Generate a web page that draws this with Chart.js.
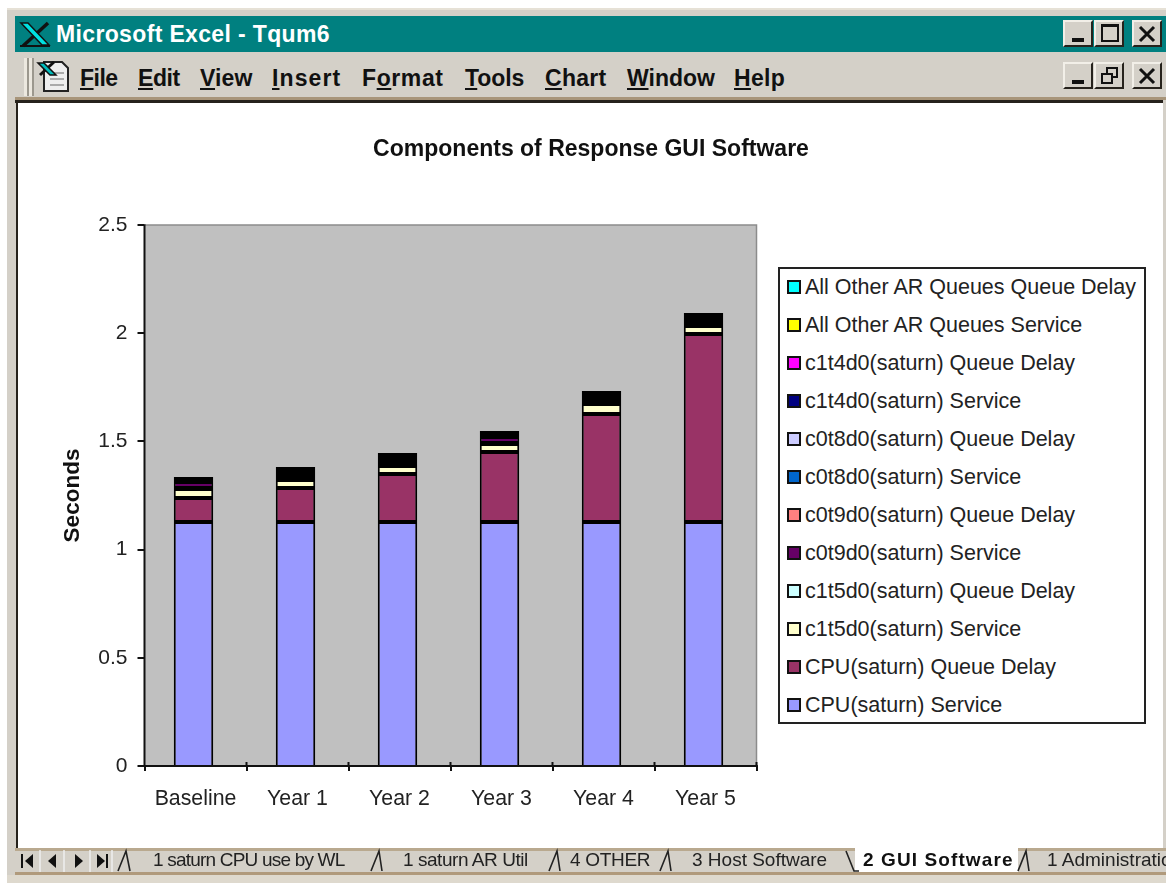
<!DOCTYPE html>
<html>
<head>
<meta charset="utf-8">
<title>Components of Response GUI Software</title>
<script src="https://cdn.jsdelivr.net/npm/chart.js@4/dist/chart.umd.min.js"></script>
<style>
html, body { margin: 0; padding: 0; background: #fff; }
#page { position: relative; width: 1166px; height: 883px; overflow: hidden; filter: blur(0.45px); font-family: "Liberation Sans", Arial, sans-serif; }
#page div, #page svg { position: absolute; }
.frame { left: 7px; top: 8px; width: 1159px; height: 875px; background: #d4d0c8; border-top: 2px solid #e6e1d6; box-sizing: border-box; }
.caption { left: 15px; top: 16px; width: 1151px; height: 36px; background: #008080; }
.captiontext { left: 56px; top: 21px; color: #fff; font: bold 23px "Liberation Sans", Arial, sans-serif; letter-spacing: 0.35px; white-space: nowrap; }
.menu { top: 65px; font: bold 23px "Liberation Sans", Arial, sans-serif; color: #111; white-space: nowrap; letter-spacing: 0.3px; }
.menu u { text-underline-offset: 2px; }
.sep1 { left: 15px; top: 97px; width: 1151px; height: 3px; background: #a8957a; }
.sep2 { left: 15px; top: 100px; width: 1148px; height: 3px; background: #26221c; }
.sepl { left: 16px; top: 100px; width: 2px; height: 755px; background: #26221c; }
.sheet { left: 18px; top: 103px; width: 1145px; height: 745px; background: #fff; }
.btn { width: 30px; height: 27px; background: #d4d0c8; box-sizing: border-box; border-top: 2px solid #f2efe8; border-left: 2px solid #f2efe8; border-right: 2px solid #26221c; border-bottom: 2px solid #26221c; }
.grip { top: 58px; width: 3px; height: 38px; background: #ece8df; border-right: 2px solid #9c988e; }
.tabbar { left: 15px; top: 848px; width: 1151px; height: 27px; background: #d4d0c8; border-top: 3px solid #b9a98f; border-bottom: 3px solid #b09a7c; box-sizing: border-box; }
.strip { left: 7px; top: 875px; width: 1159px; height: 8px; background: #ded9ce; }
.activetab { left: 855px; top: 846px; width: 163px; height: 26px; background: #fff; }
.tab { top: 849px; font: 19px "Liberation Sans", Arial, sans-serif; color: #222; white-space: nowrap; }
#wrap { left: 20px; top: 104px; width: 1142px; height: 744px; }
#legend { left: 778px; top: 267px; width: 368px; height: 457px; border: 2px solid #222; box-sizing: border-box; background: #fff; }
.item { left: 7px; height: 24px; width: 355px; }
.swatch { left: 0; top: 5px; width: 14px; height: 14px; border: 2px solid #111; box-sizing: border-box; }
.label { left: 18px; top: 0; font: 21.5px/24px "Liberation Sans", Arial, sans-serif; color: #222; white-space: nowrap; }
</style>
</head>
<body>
<div id="page">
  <div class="frame"></div>
  <div class="caption"></div>
  <svg style="left:18px;top:21px" width="34" height="27" viewBox="0 0 34 27">
    <path d="M30 2 L5 25" stroke="#111" stroke-width="3.5"/>
    <path d="M2 25 L32 25" stroke="#111" stroke-width="2"/>
    <path d="M3 2 L10 2 L31 24 L24 24 Z" fill="#00e0e0" stroke="#111" stroke-width="1.5"/>
  </svg>
  <div class="captiontext">Microsoft Excel - Tqum6</div>
  <div class="btn" style="left:1063px;top:20px"><div style="left:7px;top:16px;width:12px;height:4px;background:#111"></div></div>
  <div class="btn" style="left:1094px;top:20px"><div style="left:5px;top:2px;width:18px;height:18px;border:2px solid #111;border-top-width:3px;box-sizing:border-box"></div></div>
  <div class="btn" style="left:1132px;top:20px"><svg style="left:4px;top:3px" width="18" height="18"><path d="M2 2L16 16M16 2L2 16" stroke="#111" stroke-width="3"/></svg></div>
  <div class="grip" style="left:24px"></div>
  <div class="grip" style="left:29px"></div>
  <svg style="left:36px;top:59px" width="36" height="36" viewBox="0 0 36 36">
    <path d="M8 3 L26 3 L32 9 L32 32 L8 32 Z" fill="#eee" stroke="#222" stroke-width="2"/>
    <path d="M14 14H28M14 20H28M14 26H28" stroke="#aaa" stroke-width="2"/>
    <path d="M18 3 L4 16" stroke="#111" stroke-width="3"/>
    <path d="M2 4 L8 4 L20 16 L14 16 Z" fill="#00bcbc" stroke="#111" stroke-width="1.5"/>
  </svg>
  <div class="menu" style="left:80px;letter-spacing:-0.5px"><u>F</u>ile</div>
  <div class="menu" style="left:138px;letter-spacing:-0.4px"><u>E</u>dit</div>
  <div class="menu" style="left:200px;letter-spacing:0.1px"><u>V</u>iew</div>
  <div class="menu" style="left:272px;letter-spacing:1.1px"><u>I</u>nsert</div>
  <div class="menu" style="left:362px;letter-spacing:0.6px">F<u>o</u>rmat</div>
  <div class="menu" style="left:465px;letter-spacing:-0.1px"><u>T</u>ools</div>
  <div class="menu" style="left:545px"><u>C</u>hart</div>
  <div class="menu" style="left:627px;letter-spacing:0"><u>W</u>indow</div>
  <div class="menu" style="left:734px"><u>H</u>elp</div>
  <div class="btn" style="left:1063px;top:62px"><div style="left:7px;top:16px;width:12px;height:4px;background:#111"></div></div>
  <div class="btn" style="left:1094px;top:62px"><svg style="left:4px;top:2px" width="20" height="20" fill="none" stroke="#111" stroke-width="2"><rect x="7" y="2" width="10" height="9"/><rect x="2" y="8" width="10" height="9" fill="#d4d0c8"/></svg></div>
  <div class="btn" style="left:1132px;top:62px"><svg style="left:4px;top:3px" width="18" height="18"><path d="M2 2L16 16M16 2L2 16" stroke="#111" stroke-width="3"/></svg></div>
  <div class="sep1"></div>
  <div class="sep2"></div>
  <div class="sepl"></div>
  <div class="sheet"></div>
  <div id="wrap"><canvas id="componentsChart"></canvas></div>
  <div id="legend"></div>
  <div class="tabbar"></div>
  <div class="strip"></div>
  <div class="activetab"></div>
  <svg style="left:18px;top:849px" width="120" height="24" viewBox="0 0 120 24">
    <g fill="#111">
      <rect x="3" y="5" width="2" height="14"/><path d="M15 5V19L7 12Z"/>
      <path d="M38 5V19L30 12Z"/>
      <path d="M57 5V19L65 12Z"/>
      <path d="M79 5V19L87 12Z"/><rect x="88" y="5" width="2" height="14"/>
    </g>
    <path d="M22 1V23M46 1V23M72 1V23M94 1V23" stroke="#eee" stroke-width="1.5"/>
  </svg>
  <svg style="left:0;top:845px" width="1166" height="30" viewBox="0 0 1166 30" fill="none" stroke="#222" stroke-width="1.6">
    <path d="M118 26L126 6L130 26"/>
    <path d="M371 26L379 6L382 26"/>
    <path d="M549 26L557 6L560 26"/>
    <path d="M660 26L668 6L671 26"/>
    <path d="M846 6L854 26L859 26"/>
    <path d="M1018 26L1026 6L1029 26"/>
  </svg>
  <div class="tab" style="left:153px;letter-spacing:-0.8px">1 saturn CPU use by WL</div>
  <div class="tab" style="left:403px;letter-spacing:-0.45px">1 saturn AR Util</div>
  <div class="tab" style="left:570px;letter-spacing:-0.3px">4 OTHER</div>
  <div class="tab" style="left:692px">3 Host Software</div>
  <div class="tab" style="left:863px;font-weight:bold;color:#111;letter-spacing:1.1px">2 GUI Software</div>
  <div class="tab" style="left:1047px">1 Administration</div>
</div>
<script>
const categories = ['Baseline', 'Year 1', 'Year 2', 'Year 3', 'Year 4', 'Year 5'];
const yTicks = [0, 0.5, 1, 1.5, 2, 2.5];

const cpuService  = [1.12754, 1.12754, 1.12754, 1.12754, 1.12754, 1.12754];
const cpuQueue    = [0.11091, 0.15712, 0.22181, 0.32348, 0.49908, 0.86876];
const c1t5Service = [0.04159, 0.03697, 0.03697, 0.03697, 0.04621, 0.03697];
const c1t5Queue   = [0.00462, 0.00462, 0.00462, 0.00462, 0.00462, 0.00462];
const c0t9Service = [0.02773, 0.01386, 0.01386, 0.02773, 0.01386, 0.01386];
const c0t9Queue   = [0.00462, 0.00462, 0.00462, 0.00462, 0.00462, 0.00462];
const c0t8Service = [0.00462, 0.00924, 0.00924, 0.00462, 0.00924, 0.00924];
const c0t8Queue   = [0, 0.00462, 0.00462, 0, 0.00462, 0.00462];
const c1t4Service = [0.00462, 0.00924, 0.00924, 0.00924, 0.00924, 0.00924];
const c1t4Queue   = [0, 0.00462, 0.00462, 0, 0.00462, 0.00462];
const otherService = [0.00462, 0.00462, 0.00462, 0.00462, 0.00462, 0.00462];
const otherQueue   = [0.00462, 0.00462, 0.00462, 0.00462, 0.00462, 0.00462];

const seriesLabels = [
    'CPU(saturn) Service', 'CPU(saturn) Queue Delay',
    'c1t5d0(saturn) Service', 'c1t5d0(saturn) Queue Delay',
    'c0t9d0(saturn) Service', 'c0t9d0(saturn) Queue Delay',
    'c0t8d0(saturn) Service', 'c0t8d0(saturn) Queue Delay',
    'c1t4d0(saturn) Service', 'c1t4d0(saturn) Queue Delay',
    'All Other AR Queues Service', 'All Other AR Queues Queue Delay'
];
const seriesValues = [
    cpuService, cpuQueue, c1t5Service, c1t5Queue, c0t9Service, c0t9Queue,
    c0t8Service, c0t8Queue, c1t4Service, c1t4Queue, otherService, otherQueue
];
const seriesColors = [
    '#9999ff', '#993366', '#ffffcc', '#ccffff', '#660066', '#ff8080',
    '#0066cc', '#ccccff', '#000080', '#ff00ff', '#ffff00', '#00ffff'
];

const FONT = '"Liberation Sans", Arial, sans-serif';

// серый фон области построения, внутренние половинки делений и сдвиг столбцов
const excelPlot = {
    id: 'excelPlot',
    afterLayout(chart) {
        // заголовок центрируется по всему листу, а не по области с отступами
        chart.titleBlock.left = 0;
        chart.titleBlock.right = chart.width;
    },
    beforeDatasetsDraw(chart) {
        const { ctx, chartArea: a, scales } = chart;
        ctx.save();
        ctx.fillStyle = '#c0c0c0';
        ctx.fillRect(a.left, a.top, a.right - a.left, a.bottom - a.top);
        ctx.strokeStyle = '#8c8c8c';
        ctx.lineWidth = 1.5;
        ctx.beginPath();
        ctx.moveTo(a.left, a.top);
        ctx.lineTo(a.right, a.top);
        ctx.lineTo(a.right, a.bottom);
        ctx.stroke();
        ctx.strokeStyle = '#111';
        ctx.lineWidth = 2;
        ctx.beginPath();
        ctx.moveTo(a.left, a.top);
        ctx.lineTo(a.left, a.bottom);
        ctx.moveTo(a.left, a.bottom);
        ctx.lineTo(a.right, a.bottom);
        for (let i = 0; i <= categories.length; i++) {
            const x = scales.x.getPixelForValue(i - 0.5);
            ctx.moveTo(x, a.bottom - 4);
            ctx.lineTo(x, a.bottom);
        }
        ctx.stroke();
        ctx.restore();
        ctx.save();
        ctx.translate(-2, 0);
    },
    afterDatasetsDraw(chart) {
        chart.ctx.restore();
    }
};

const componentsChart = new Chart(document.getElementById('componentsChart').getContext('2d'), {
    type: 'bar',
    data: {
        labels: categories,
        datasets: seriesLabels.map((label, i) => ({
            label: label,
            data: seriesValues[i],
            backgroundColor: seriesColors[i],
            borderColor: '#000',
            borderWidth: 2,
            borderSkipped: i === 0 ? 'bottom' : false,
            inflateAmount: 0,
            barPercentage: 0.387,
            categoryPercentage: 1
        }))
    },
    options: {
        responsive: true, maintainAspectRatio: false, animation: false,
        layout: { padding: { left: 39, right: 405.5, top: 0, bottom: 32 } },
        scales: {
            x: {
                stacked: true,
                afterFit(scale) { scale.height = 50; },
                grid: { drawOnChartArea: false, color: '#111', lineWidth: 2, tickLength: 5 },
                border: { color: '#111', width: 2 },
                ticks: { color: '#222', font: { family: FONT, size: 21.3 }, padding: 15, maxRotation: 0 }
            },
            y: {
                stacked: true, min: 0, max: 2.5,
                afterFit(scale) { scale.width = 85.5; },
                afterBuildTicks(scale) { scale.ticks = yTicks.map(v => ({ value: v })); },
                grid: { drawOnChartArea: false, color: '#111', lineWidth: 2, tickLength: 7 },
                border: { color: '#111', width: 2 },
                ticks: {
                    color: '#222', font: { family: FONT, size: 21 }, padding: 10,
                    callback: value => String(value)
                },
                title: {
                    display: true, text: 'Seconds', color: '#111',
                    font: { family: FONT, size: 22.5, weight: 'bold' },
                    padding: { top: 0, bottom: 0 }
                }
            }
        },
        plugins: {
            legend: { display: false },
            tooltip: { enabled: false },
            title: {
                display: true, text: 'Components of Response GUI Software', color: '#111',
                font: { family: FONT, size: 23, weight: 'bold' },
                padding: { top: 32.2, bottom: 61.2 }
            }
        }
    },
    plugins: [excelPlot]
});

// легенда снаружи графика, порядок обратный
const legendBox = document.getElementById('legend');
componentsChart.data.datasets.slice().reverse().forEach((ds, i) => {
    const row = document.createElement('div');
    row.className = 'item';
    row.style.top = (6 + i * 38) + 'px';
    const swatch = document.createElement('div');
    swatch.className = 'swatch';
    swatch.style.background = ds.backgroundColor;
    const text = document.createElement('div');
    text.className = 'label';
    text.textContent = ds.label;
    row.appendChild(swatch);
    row.appendChild(text);
    legendBox.appendChild(row);
});
</script>
</body>
</html>
